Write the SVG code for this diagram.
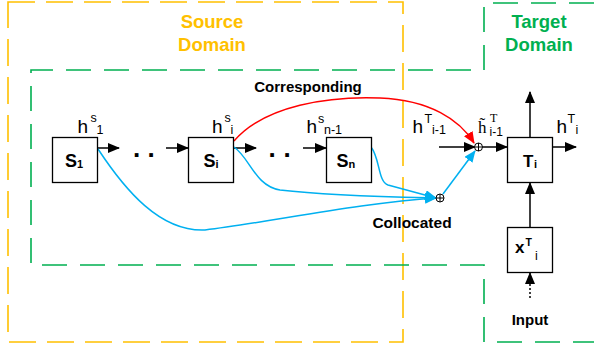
<svg xmlns="http://www.w3.org/2000/svg" width="594" height="343" viewBox="0 0 594 343">
<defs>
<style>
text{font-family:"Liberation Sans",Arial,sans-serif;fill:#000}
.b{font-weight:bold}
.box{fill:#fff;stroke:#000;stroke-width:1.3}
.ln{fill:none;stroke:#000;stroke-width:1.5}
.blue{fill:none;stroke:#00B0F0;stroke-width:1.5}
.red{fill:none;stroke:#FF0000;stroke-width:1.5}
.lab{font-size:19px}
.sm{font-size:12.5px}
.serif{font-family:"Liberation Serif","Times New Roman",serif}
</style>
<marker id="ak" viewBox="0 0 12 10" refX="11" refY="5" markerWidth="12" markerHeight="10" markerUnits="userSpaceOnUse" orient="auto"><path d="M0,0 L12,5 L0,10 z" fill="#000"/></marker>
<marker id="ab" viewBox="0 0 12 10" refX="11" refY="5" markerWidth="12" markerHeight="10" markerUnits="userSpaceOnUse" orient="auto"><path d="M0,0 L12,5 L0,10 z" fill="#00B0F0"/></marker>
<marker id="ar" viewBox="0 0 12 10" refX="11" refY="5" markerWidth="12" markerHeight="10" markerUnits="userSpaceOnUse" orient="auto"><path d="M0,0 L12,5 L0,10 z" fill="#FF0000"/></marker>
</defs>
<rect width="594" height="343" fill="#fff"/>

<g id="regions">
<rect x="8" y="2" width="395" height="340" fill="none" stroke="#FFC000" stroke-width="1.6" stroke-dasharray="27 11"/>
<path d="M594,3 H484 V70 H31 V265 H484 V342 H594" fill="none" stroke="#00B050" stroke-width="1.6" stroke-dasharray="25 13"/>
<text class="b" x="212" y="28" font-size="18.5" text-anchor="middle" style="fill:#FFC000">Source</text>
<text class="b" x="212" y="51" font-size="18.5" text-anchor="middle" style="fill:#FFC000">Domain</text>
<text class="b" x="539" y="28" font-size="18.5" text-anchor="middle" style="fill:#00B050">Target</text>
<text class="b" x="539" y="51" font-size="18.5" text-anchor="middle" style="fill:#00B050">Domain</text>
</g>

<g id="connectors">
<line class="ln" x1="98" y1="148" x2="119" y2="148" marker-end="url(#ak)"/>
<line class="ln" x1="166" y1="148" x2="188" y2="148" marker-end="url(#ak)"/>
<line class="ln" x1="234" y1="148" x2="256" y2="148" marker-end="url(#ak)"/>
<line class="ln" x1="303" y1="148" x2="326" y2="148" marker-end="url(#ak)"/>
<line class="ln" x1="439" y1="147" x2="475" y2="147" marker-end="url(#ak)"/>
<line class="ln" x1="482" y1="147" x2="507" y2="147" marker-end="url(#ak)"/>
<line class="ln" x1="553" y1="147" x2="576" y2="147" marker-end="url(#ak)"/>
<line class="ln" x1="530" y1="137" x2="530" y2="92" marker-end="url(#ak)"/>
<line class="ln" x1="530" y1="227" x2="530" y2="183" marker-end="url(#ak)"/>
<line class="ln" x1="530" y1="298" x2="530" y2="273" stroke-dasharray="2 2" marker-end="url(#ak)"/>
<path class="red" d="M234,141 C265,105 330,96 380,98 C430,100 460,120 474,143" marker-end="url(#ar)"/>
<path class="blue" d="M98,149 C125,190 160,232 205,230 C270,222 360,203 436,198" marker-end="url(#ab)"/>
<path class="blue" d="M234,147 C250,158 255,186 280,190 C330,196 390,197 436,198" marker-end="url(#ab)"/>
<path class="blue" d="M371,147 C380,158 378,182 388,185 L436,198" marker-end="url(#ab)"/>
<path class="blue" d="M443,194 L475,151" marker-end="url(#ab)"/>
<g fill="#fff" stroke="#000" stroke-width="1">
<circle cx="478.5" cy="147" r="4"/>
<circle cx="440" cy="198" r="4"/>
</g>
<path d="M474.5,147 H482.5 M478.5,143 V151 M436,198 H444 M440,194 V202" stroke="#000" stroke-width="1"/>
<text class="b" x="308" y="92" font-size="15" text-anchor="middle">Corresponding</text>
<text class="b" x="412" y="228" font-size="15.5" text-anchor="middle">Collocated</text>
<text class="b" x="530" y="325" font-size="15" text-anchor="middle">Input</text>
<text class="b" x="133 147.5" y="157" font-size="26">..</text>
<text class="b" x="268.5 283.5" y="157" font-size="26">..</text>
<text class="lab" x="77.5" y="133">h</text><text class="sm" x="90.5" y="122">s</text><text class="sm" x="96.5" y="134">1</text>
<text class="lab" x="212" y="133">h</text><text class="sm" x="224.5" y="122">s</text><text class="sm" x="230.5" y="134">i</text>
<text class="lab" x="306.5" y="133">h</text><text class="sm" x="318" y="123">s</text><text class="sm" x="324" y="134">n-1</text>
<text class="lab" x="412.5" y="133">h</text><text class="sm" x="424.5" y="123">T</text><text class="sm" x="432" y="134">i-1</text>
<text class="serif" x="478" y="133" font-size="17">h̃</text><text class="serif" x="490" y="121.5" font-size="12">T</text><text x="489.5" y="136" font-size="12">i-1</text>
<text class="lab" x="556.5" y="133">h</text><text class="sm" x="567.5" y="123">T</text><text class="sm" x="575.5" y="134">i</text>
</g>

<g id="S1"><rect class="box" x="52.5" y="137.5" width="45" height="45"/><text class="b" x="65" y="167" font-size="18">S</text><text class="b" x="77" y="168" font-size="11">1</text></g>
<g id="Si"><rect class="box" x="188.5" y="137.5" width="45" height="45"/><text class="b" x="203.5" y="167" font-size="18">S</text><text class="b" x="215.5" y="168" font-size="11">i</text></g>
<g id="Sn"><rect class="box" x="326.5" y="137.5" width="45" height="45"/><text class="b" x="336.5" y="167" font-size="18">S</text><text class="b" x="348.5" y="168" font-size="11">n</text></g>
<g id="Ti"><rect class="box" x="507.5" y="137.5" width="45" height="45"/><text class="b" x="523" y="167" font-size="17">T</text><text class="b" x="534" y="168" font-size="11">i</text></g>
<g id="xTi"><rect class="box" x="507.5" y="227.5" width="45" height="45"/><text class="b" x="515" y="253" font-size="17">x</text><text class="b" x="525.5" y="246" font-size="10.5">T</text><text x="535" y="260" font-size="12.5">i</text></g>
</svg>
